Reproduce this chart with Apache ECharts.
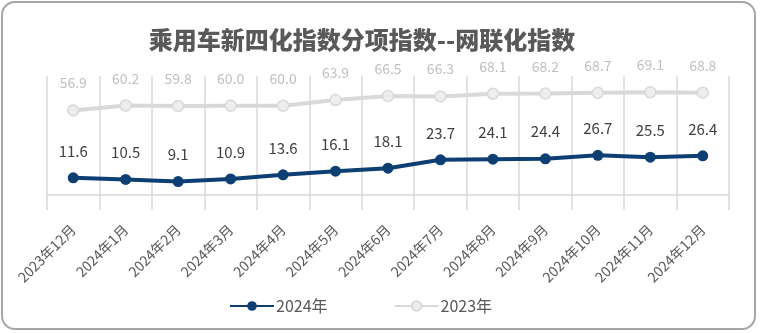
<!DOCTYPE html>
<html>
<head>
<meta charset="utf-8">
<script src="https://cdn.jsdelivr.net/npm/echarts@6/dist/echarts.min.js"></script>
<style>
  html, body { margin: 0; padding: 0; background: #fff; }
  #frame {
    position: absolute; left: 1px; top: 1px; width: 755px; height: 329px;
    border: 2px solid #a6a6a6; border-radius: 14px; box-sizing: border-box;
  }
  #chart { position: absolute; left: 0; top: 0; width: 760px; height: 333px; }
</style>
</head>
<body>
<div id="frame"></div>
<div id="chart"></div>
<script>
// Monthly categories
const months = ['2023年12月', '2024年1月', '2024年2月', '2024年3月', '2024年4月', '2024年5月',
  '2024年6月', '2024年7月', '2024年8月', '2024年9月', '2024年10月', '2024年11月', '2024年12月'];
// Connectivity index values
const values2024 = [11.6, 10.5, 9.1, 10.9, 13.6, 16.1, 18.1, 23.7, 24.1, 24.4, 26.7, 25.5, 26.4];
const values2023 = [56.9, 60.2, 59.8, 60.0, 60.0, 63.9, 66.5, 66.3, 68.1, 68.2, 68.7, 69.1, 68.8];

const FONT = '"Noto Sans CJK SC", "Microsoft YaHei", sans-serif';
const chart = echarts.init(document.getElementById('chart'), null, { renderer: 'canvas' });

chart.setOption({
  animation: false,
  textStyle: { fontFamily: FONT },
  title: {
    text: '乘用车新四化指数分项指数--网联化指数',
    left: 357, top: 23, textAlign: 'center',
    textStyle: { fontSize: 24, fontWeight: 900, color: '#595959', fontFamily: FONT }
  },
  legend: {
    bottom: 14, left: 224,
    itemWidth: 44, itemHeight: 12, itemGap: 66,
    data: ['2024年', '2023年'],
    textStyle: { fontSize: 16, color: '#595959', fontFamily: FONT, padding: [0, 0, 0, -3] }
  },
  grid: { left: 47, right: 31, top: 76, bottom: 123, containLabel: false },
  xAxis: {
    type: 'category',
    data: months,
    boundaryGap: true,
    axisTick: { show: false },
    axisLine: { lineStyle: { color: '#d9d9d9', width: 1.5 } },
    splitLine: { show: true, interval: 0, lineStyle: { color: '#d9d9d9', width: 1.5 } },
    axisLabel: { rotate: 45, interval: 0, margin: 17, fontSize: 14, color: '#595959', fontFamily: FONT }
  },
  yAxis: {
    type: 'value', min: -10, max: 80, show: false,
    splitLine: { show: false }
  },
  series: [
    {
      name: '2023年', type: 'line', data: values2023,
      symbol: 'circle', symbolSize: 11,
      lineStyle: { color: '#d9d9d9', width: 4 },
      itemStyle: { color: '#ededed', borderColor: '#d9d9d9', borderWidth: 1.5 },
      label: { show: true, position: 'top', distance: 14, fontSize: 14, color: '#bfbfbf', fontFamily: FONT,
        formatter: p => p.value.toFixed(1) }
    },
    {
      name: '2024年', type: 'line', data: values2024,
      symbol: 'circle', symbolSize: 11,
      lineStyle: { color: '#0d3f72', width: 4 },
      itemStyle: { color: '#0d3f72' },
      label: { show: true, position: 'top', distance: 14, fontSize: 15, color: '#404040', fontFamily: FONT,
        formatter: p => p.value.toFixed(1) }
    }
  ]
});
</script>
</body>
</html>
